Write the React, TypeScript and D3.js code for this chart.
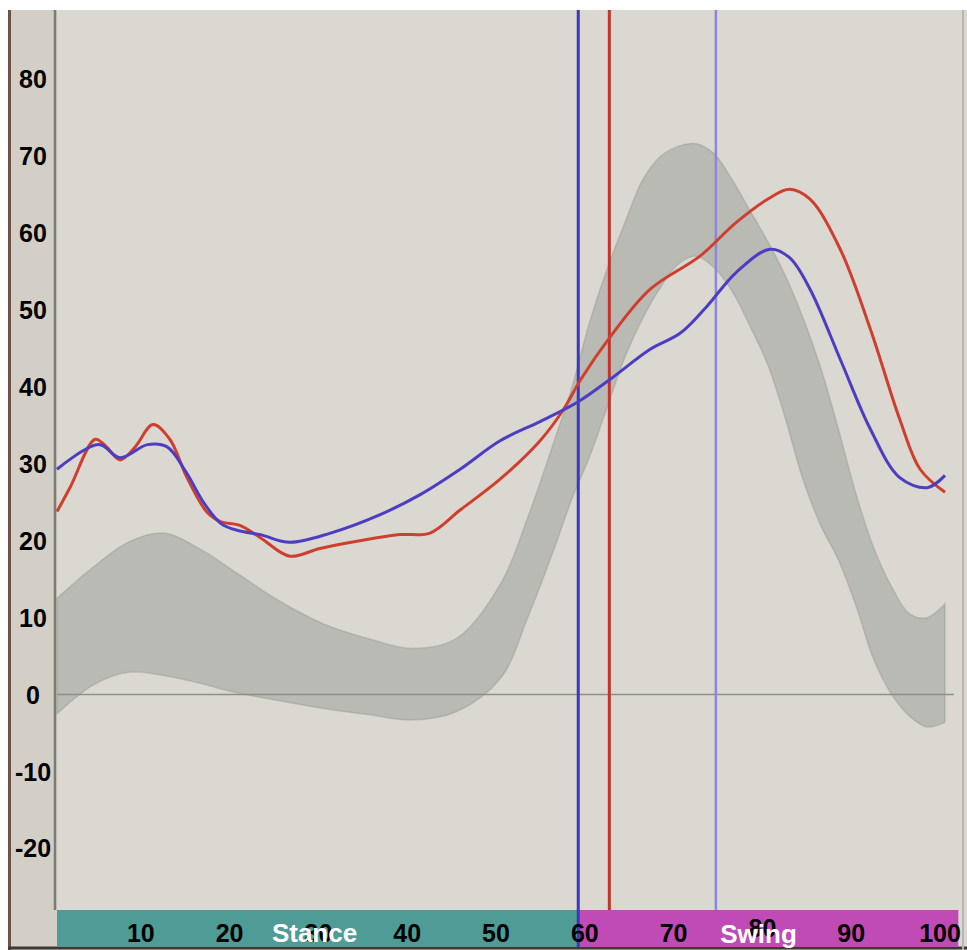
import React, { useEffect } from "react";
import * as d3 from "d3";

// ---- data (gait cycle %, joint angle in degrees) ----
const yTicks = [80, 70, 60, 50, 40, 30, 20, 10, 0, -10, -20];
const xTicks = [10, 20, 30, 40, 50, 60, 70, 80, 90, 100];

const bandX = [0, 4, 8, 12, 16, 20, 25, 30, 35, 40, 45, 50, 53, 56, 58, 60, 62, 64, 66, 68, 70, 72, 74, 76, 78, 80, 82, 84, 86, 88, 90, 92, 94, 96, 98, 100];
const bandUpper = [12.5, 16.5, 19.8, 21, 19, 16, 12.2, 9.2, 7.3, 6, 7.3, 14.5, 23, 33, 40, 48.5, 55.5, 61.5, 67, 70, 71.3, 71.6, 70.3, 67, 63, 59, 54.5, 49, 42.5, 34.5, 26, 19, 14, 10.5, 10, 11.8];
const bandLower = [-2.5, 1.2, 2.9, 2.5, 1.5, 0.3, -0.8, -1.8, -2.6, -3.3, -2.2, 2.2, 10, 19, 25.5, 31, 37.5, 44, 49, 53, 56, 57, 55.5, 52.5, 48, 43, 36, 28, 22, 17.5, 11.5, 4.5, 0, -2.8, -4.2, -3.6];

const redX = [0, 1.5, 4.3, 5.5, 7.1, 8.8, 10.8, 12.7, 14.6, 16.9, 18.4, 20.6, 22.9, 26.2, 29.6, 34.1, 38.6, 42, 45.4, 49.9, 54.4, 57, 59, 62.3, 66.8, 72.4, 76.5, 80.3, 82.5, 84.8, 88.2, 91.6, 94.9, 97.2, 100];
const redY = [23.8, 27, 33.2, 32.3, 30.5, 32.2, 35.1, 33.2, 28.3, 23.7, 22.5, 22, 20.4, 18, 19, 20, 20.8, 21, 24, 28, 33, 37, 41, 46.5, 52.7, 57, 61.4, 64.6, 65.7, 64.4, 57.9, 47.5, 35.8, 29.3, 26.3];

const blueX = [0, 4.7, 7.1, 10.2, 12.4, 14.5, 16.5, 18.5, 20.5, 22.9, 26.2, 30.8, 36.4, 40.9, 45.4, 49.9, 54.4, 58.6, 62.3, 66.8, 70.2, 73.2, 76.5, 80.3, 82.5, 84.8, 88.2, 91.6, 94.9, 98, 100];
const blueY = [29.3, 32.5, 30.8, 32.5, 32.2, 29, 25, 22.2, 21.3, 20.8, 19.8, 21, 23.4, 26, 29.3, 33, 35.5, 38, 41, 44.9, 47, 50.5, 54.9, 57.9, 56.8, 52.7, 43.6, 34.5, 28.2, 26.9, 28.5];

const eventX = [58.7, 62.2, 74.2];
const eventColors = ["#3b36c4", "#c2342c", "#8c88d6"];
const phaseStart = [0, 58.7];
const phaseEnd = [58.7, 101.5];
const phaseNames = ["Stance", "Swing"];
const phaseColors = ["#4e9c95", "#c04ab6"];
const phaseLabelX = [29, 79];

export default function App() {
  useEffect(() => {
    document.body.style.margin = "0";
  }, []);

  const W = 967;
  const H = 950;
  const x = d3.scaleLinear().domain([0, 100]).range([57, 945]);
  const y = d3.scaleLinear().domain([-28, 89]).range([910, 10]);

  const bandData = bandX.map((v, i) => ({ x: v, lo: bandLower[i], hi: bandUpper[i] }));
  const area = d3
    .area<{ x: number; lo: number; hi: number }>()
    .x((d) => x(d.x))
    .y0((d) => y(d.lo))
    .y1((d) => y(d.hi))
    .curve(d3.curveCatmullRom);

  const line = d3
    .line<[number, number]>()
    .x((d) => x(d[0]))
    .y((d) => y(d[1]))
    .curve(d3.curveCatmullRom);

  const red: [number, number][] = redX.map((v, i) => [v, redY[i]]);
  const blue: [number, number][] = blueX.map((v, i) => [v, blueY[i]]);

  const font = "'Liberation Sans', Arial, Helvetica, sans-serif";

  return (
    <svg width={W} height={H} style={{ display: "block" }}>
      <rect x={0} y={0} width={W} height={H} fill="#ffffff" />
      {/* photo / screen background */}
      <rect x={8} y={10} width={W - 8} height={H - 10} fill="#dad8d0" />
      <rect x={8} y={10} width={49} height={H - 10} fill="#d3cfc7" />
      <line x1={9.5} y1={10} x2={9.5} y2={H} stroke="#6b5148" strokeWidth={3} />
      <line x1={8} y1={948} x2={W} y2={948} stroke="#3d3a36" strokeWidth={3} />
      <line x1={963} y1={10} x2={963} y2={H} stroke="#b9b6ae" strokeWidth={2} />

      {/* normative band */}
      <path d={area(bandData) || ""} fill="#8f928c" fillOpacity={0.42} stroke="#8a8d87" strokeOpacity={0.35} strokeWidth={1.5} />

      {/* zero line */}
      <line x1={x(0)} x2={x(101)} y1={y(0)} y2={y(0)} stroke="#8e8e8a" strokeWidth={1.5} />

      {/* left axis */}
      <line x1={55} x2={55} y1={10} y2={910} stroke="#7d7b76" strokeWidth={2.5} />

      {/* phase bar */}
      {phaseStart.map((s, i) => (
        <rect
          key={"ph" + i}
          x={x(s)}
          y={910}
          width={x(phaseEnd[i]) - x(s)}
          height={37}
          fill={phaseColors[i]}
        />
      ))}

      {/* event lines */}
      {eventX.map((e, i) => (
        <line
          key={"ev" + i}
          x1={x(e)}
          x2={x(e)}
          y1={10}
          y2={i === 0 ? 947 : 910}
          stroke={eventColors[i]}
          strokeWidth={i === 2 ? 2.5 : 3}
        />
      ))}

      {/* curves */}
      <path d={line(red) || ""} fill="none" stroke="#cf3f30" strokeWidth={3} strokeLinejoin="round" />
      <path d={line(blue) || ""} fill="none" stroke="#4b3ec2" strokeWidth={3} strokeLinejoin="round" />

      {/* y tick labels */}
      {yTicks.map((t) => (
        <text
          key={"yt" + t}
          x={33}
          y={y(t) + 9}
          textAnchor="middle"
          fontFamily={font}
          fontWeight="bold"
          fontSize={25}
          fill="#000"
        >
          {t}
        </text>
      ))}

      {/* x tick labels */}
      {xTicks.map((t) => (
        <text
          key={"xt" + t}
          x={x(t) - 5}
          y={t === 80 ? 937 : 942}
          textAnchor="middle"
          fontFamily={font}
          fontWeight="bold"
          fontSize={25}
          fill="#000"
        >
          {t}
        </text>
      ))}

      {/* phase labels */}
      {phaseNames.map((n, i) => (
        <text
          key={"pn" + i}
          x={x(phaseLabelX[i])}
          y={i === 0 ? 942 : 943}
          textAnchor="middle"
          fontFamily={font}
          fontWeight="bold"
          fontSize={26}
          fill="#ffffff"
        >
          {n}
        </text>
      ))}
    </svg>
  );
}
